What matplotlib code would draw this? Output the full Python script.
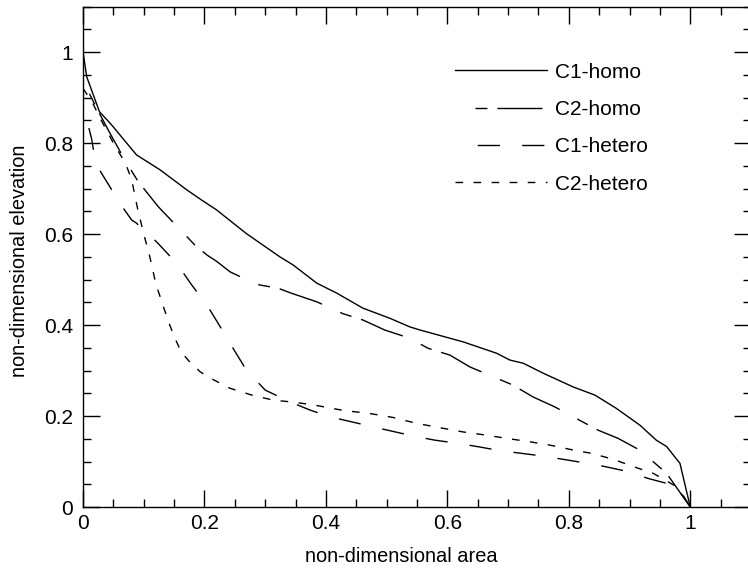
import matplotlib
matplotlib.use("Agg")
import matplotlib.pyplot as plt
from matplotlib.ticker import MultipleLocator, FuncFormatter

plt.rcParams['font.family'] = ['Liberation Sans', 'DejaVu Sans']

# curve data (non-dimensional area, non-dimensional elevation)
c1_homo_x = [0.0, 0.006, 0.027, 0.047, 0.088, 0.127, 0.171, 0.195, 0.22, 0.269,
             0.324, 0.346, 0.385, 0.418, 0.461, 0.505, 0.538, 0.555, 0.626, 0.681,
             0.703, 0.725, 0.758, 0.807, 0.843, 0.878, 0.917, 0.944, 0.961, 0.983, 1.0]
c1_homo_y = [1.0, 0.946, 0.869, 0.84, 0.774, 0.741, 0.697, 0.675, 0.653, 0.601,
             0.55, 0.532, 0.492, 0.47, 0.437, 0.415, 0.396, 0.389, 0.363, 0.338,
             0.323, 0.316, 0.294, 0.264, 0.246, 0.217, 0.18, 0.147, 0.133, 0.096, 0.0]

c2_homo_x = [0.0, 0.01, 0.025, 0.045, 0.07, 0.091, 0.124, 0.149, 0.184, 0.204,
             0.22, 0.242, 0.264, 0.291, 0.321, 0.343, 0.385, 0.428, 0.461, 0.497,
             0.538, 0.568, 0.604, 0.637, 0.708, 0.741, 0.777, 0.848, 0.881, 0.917,
             0.961, 1.0]
c2_homo_y = [0.95, 0.91, 0.87, 0.82, 0.76, 0.715, 0.66, 0.625, 0.576, 0.554,
             0.54, 0.517, 0.503, 0.488, 0.481, 0.47, 0.451, 0.425, 0.411, 0.389,
             0.371, 0.349, 0.334, 0.308, 0.268, 0.242, 0.22, 0.169, 0.151, 0.125,
             0.074, 0.0]

c1_het_x = [0.0, 0.007, 0.014, 0.02, 0.027, 0.04, 0.062, 0.08, 0.088, 0.121,
            0.154, 0.179, 0.204, 0.226, 0.247, 0.269, 0.3, 0.341, 0.374, 0.407,
            0.44, 0.478, 0.511, 0.544, 0.579, 0.617, 0.653, 0.686, 0.722, 0.757,
            0.79, 0.826, 0.859, 0.897, 0.93, 0.961, 0.983, 1.0]
c1_het_y = [0.88, 0.847, 0.81, 0.763, 0.741, 0.713, 0.665, 0.631, 0.624, 0.583,
            0.536, 0.488, 0.444, 0.396, 0.349, 0.301, 0.257, 0.231, 0.213, 0.198,
            0.188, 0.176, 0.166, 0.156, 0.147, 0.14, 0.132, 0.124, 0.118, 0.112,
            0.105, 0.097, 0.089, 0.078, 0.063, 0.052, 0.037, 0.0]

c2_het_x = [0.0, 0.015, 0.03, 0.05, 0.07, 0.08, 0.09, 0.1, 0.11, 0.12,
            0.13, 0.14, 0.15, 0.162, 0.175, 0.193, 0.21, 0.242, 0.278, 0.313,
            0.35, 0.385, 0.43, 0.47, 0.51, 0.549, 0.593, 0.626, 0.664, 0.697,
            0.733, 0.769, 0.801, 0.837, 0.873, 0.906, 0.939, 0.977, 1.0]
c2_het_y = [0.92, 0.89, 0.85, 0.8, 0.755, 0.72, 0.655, 0.6, 0.55, 0.49,
            0.45, 0.41, 0.375, 0.34, 0.32, 0.297, 0.283, 0.261, 0.246, 0.235,
            0.23, 0.223, 0.212, 0.206, 0.197, 0.184, 0.173, 0.165, 0.158, 0.151,
            0.144, 0.136, 0.127, 0.118, 0.105, 0.089, 0.074, 0.045, 0.0]

labels = ['C1-homo', 'C2-homo', 'C1-hetero', 'C2-hetero']

fig = plt.figure(figsize=(7.48, 5.70), dpi=100)
ax = fig.add_axes([0.111, 0.1105, 0.893, 0.878])

lw = 1.0
ax.plot(c1_homo_x, c1_homo_y, color='k', lw=lw, linestyle='-', label=labels[0])
ax.plot(c2_homo_x, c2_homo_y, color='k', lw=lw,
        linestyle=(32.4, (32.4, 14.4, 8.6, 7.2)), label=labels[1])
ax.plot(c1_het_x, c1_het_y, color='k', lw=lw,
        linestyle=(16, (16, 16)), label=labels[2])
ax.plot(c2_het_x, c2_het_y, color='k', lw=lw,
        linestyle=(0, (5.5, 7.5)), label=labels[3])

ax.set_xlim(0, 1.1)
ax.set_ylim(0, 1.1)
ax.xaxis.set_major_locator(MultipleLocator(0.2))
ax.yaxis.set_major_locator(MultipleLocator(0.2))
ax.xaxis.set_minor_locator(MultipleLocator(0.05))
ax.yaxis.set_minor_locator(MultipleLocator(0.05))
fmt = FuncFormatter(lambda v, p: '%g' % round(v, 2))
ax.xaxis.set_major_formatter(fmt)
ax.yaxis.set_major_formatter(fmt)

ax.tick_params(which='both', direction='in', top=True, right=True,
               width=1.0, labelsize=15)
ax.tick_params(which='major', length=12)
ax.tick_params(which='minor', length=6)
ax.tick_params(axis='x', which='major', pad=5)
ax.tick_params(axis='y', which='major', pad=7)
for s in ax.spines.values():
    s.set_linewidth(1.0)

ax.set_xlabel('non-dimensional area', fontsize=14.4)
ax.set_ylabel('non-dimensional elevation', fontsize=14.4)
ax.xaxis.set_label_coords(0.477, -0.080)
ax.yaxis.set_label_coords(-0.081, 0.4925)

ax.legend(loc='upper left', bbox_to_anchor=(0.612, 0.977),
          bbox_transform=ax.transData, frameon=False, fontsize=15,
          handlelength=4.42, handletextpad=0.38, labelspacing=0.88,
          borderpad=0, borderaxespad=0)

fig.savefig('out.png', dpi=100)
